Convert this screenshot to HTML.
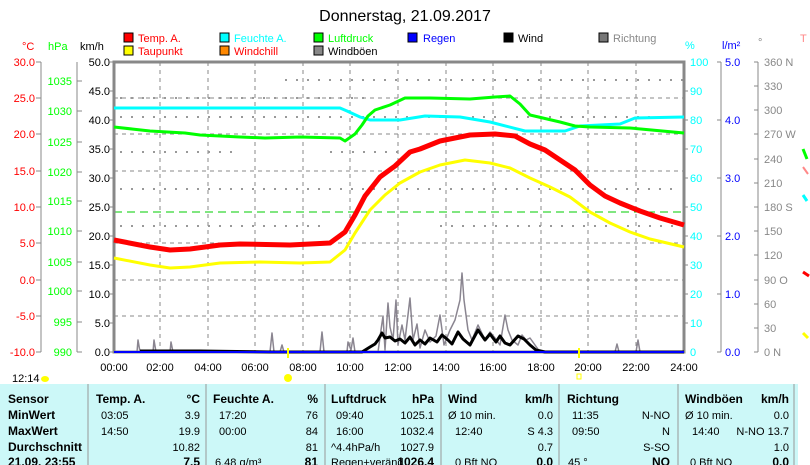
<!DOCTYPE html>
<html><head><meta charset="utf-8"><style>
body{margin:0;width:810px;height:465px;overflow:hidden;background:#fff;font-family:"Liberation Sans",sans-serif}
svg{position:absolute;left:0;top:0}
</style></head><body>
<svg width="810" height="465" xmlns="http://www.w3.org/2000/svg" font-family="Liberation Sans, sans-serif" font-size="11">
<text x="405" y="21" font-size="16" text-anchor="middle" fill="#000">Donnerstag, 21.09.2017</text>
<!-- legend -->
<g font-size="11">
<rect x="124" y="33" width="9" height="9" fill="#f00" stroke="#000"/><text x="138" y="42" fill="#f00">Temp. A.</text>
<rect x="124" y="46" width="9" height="9" fill="#ff0" stroke="#000"/><text x="138" y="55" fill="#f00">Taupunkt</text>
<rect x="220" y="33" width="9" height="9" fill="#0ff" stroke="#000"/><text x="234" y="42" fill="#0ff">Feuchte A.</text>
<rect x="220" y="46" width="9" height="9" fill="#f80" stroke="#000"/><text x="234" y="55" fill="#f00">Windchill</text>
<rect x="314" y="33" width="9" height="9" fill="#0f0" stroke="#000"/><text x="328" y="42" fill="#0f0">Luftdruck</text>
<rect x="314" y="46" width="9" height="9" fill="#888" stroke="#000"/><text x="328" y="55" fill="#000">Windböen</text>
<rect x="408" y="33" width="9" height="9" fill="#00f" stroke="#000"/><text x="423" y="42" fill="#00f">Regen</text>
<rect x="504" y="33" width="9" height="9" fill="#000" stroke="#000"/><text x="518" y="42" fill="#000">Wind</text>
<rect x="599" y="33" width="9" height="9" fill="#777" stroke="#000"/><text x="613" y="42" fill="#888">Richtung</text>
</g>
<text x="22" y="50" fill="#f00">°C</text><text x="48" y="50" fill="#0f0">hPa</text><text x="80" y="50" fill="#000">km/h</text>
<text x="685" y="49" fill="#0ff">%</text><text x="722" y="49" fill="#00f">l/m²</text><text x="758" y="46" fill="#888">°</text>
<text x="800" y="42" fill="#f88">T</text>
<!-- left axes -->
<g stroke="#888" fill="none"><line x1="41" y1="62" x2="41" y2="352"/><line x1="77" y1="62" x2="77" y2="352"/>
<path d="M36 62h5M36 98h5M36 134h5M36 171h5M36 207h5M36 243h5M36 280h5M36 316h5M36 352h5"/>
<path d="M77 81h5M77 111h5M77 142h5M77 172h5M77 201h5M77 231h5M77 262h5M77 291h5M77 322h5M77 352h5"/>
<path d="M110 62h4M110 91h4M110 120h4M110 149h4M110 178h4M110 207h4M110 236h4M110 265h4M110 294h4M110 323h4M110 352h4"/>
</g>
<g fill="#f00" text-anchor="end"><text x="35" y="66">30.0</text><text x="35" y="102">25.0</text><text x="35" y="138">20.0</text><text x="35" y="175">15.0</text><text x="35" y="211">10.0</text><text x="35" y="247">5.0</text><text x="35" y="284">0.0</text><text x="35" y="320">-5.0</text><text x="35" y="356">-10.0</text></g>
<g fill="#0f0" text-anchor="end"><text x="72" y="85">1035</text><text x="72" y="115">1030</text><text x="72" y="146">1025</text><text x="72" y="176">1020</text><text x="72" y="205">1015</text><text x="72" y="235">1010</text><text x="72" y="266">1005</text><text x="72" y="295">1000</text><text x="72" y="326">995</text><text x="72" y="356">990</text></g>
<g fill="#000" text-anchor="end"><text x="110" y="66">50.0</text><text x="110" y="95">45.0</text><text x="110" y="124">40.0</text><text x="110" y="153">35.0</text><text x="110" y="182">30.0</text><text x="110" y="211">25.0</text><text x="110" y="240">20.0</text><text x="110" y="269">15.0</text><text x="110" y="298">10.0</text><text x="110" y="327">5.0</text><text x="110" y="356">0.0</text></g>
<!-- right axes -->
<g stroke="#888" fill="none"><line x1="721" y1="62" x2="721" y2="352"/><line x1="758" y1="62" x2="758" y2="352"/>
<path d="M684 91h4M684 120h4M684 149h4M684 178h4M684 207h4M684 236h4M684 265h4M684 294h4M684 323h4"/>
<path d="M717 62h4M717 120h4M717 178h4M717 236h4M717 294h4M717 352h4"/>
<path d="M754 62h4M754 86h4M754 110h4M754 134h4M754 159h4M754 183h4M754 207h4M754 231h4M754 255h4M754 280h4M754 304h4M754 328h4M754 352h4"/>
</g>
<g fill="#0ff"><text x="690" y="66">100</text><text x="690" y="95">90</text><text x="690" y="124">80</text><text x="690" y="153">70</text><text x="690" y="182">60</text><text x="690" y="211">50</text><text x="690" y="240">40</text><text x="690" y="269">30</text><text x="690" y="298">20</text><text x="690" y="327">10</text><text x="690" y="356">0</text></g>
<g fill="#00f"><text x="725" y="66">5.0</text><text x="725" y="124">4.0</text><text x="725" y="182">3.0</text><text x="725" y="240">2.0</text><text x="725" y="298">1.0</text><text x="725" y="356">0.0</text></g>
<g fill="#888"><text x="764" y="66">360 N</text><text x="764" y="90">330</text><text x="764" y="114">300</text><text x="764" y="138">270 W</text><text x="764" y="163">240</text><text x="764" y="187">210</text><text x="764" y="211">180 S</text><text x="764" y="235">150</text><text x="764" y="259">120</text><text x="764" y="284">90  O</text><text x="764" y="308">60</text><text x="764" y="332">30</text><text x="764" y="356">0   N</text></g>
<!-- grid -->
<g stroke="#888" stroke-dasharray="4,4" fill="none">
<path d="M160 62v290M208 62v290M255 62v290M303 62v290M350 62v290M398 62v290M446 62v290M493 62v290M541 62v290M588 62v290M636 62v290"/>
<path d="M114 98h570M114 134h570M114 171h570M114 243h570M114 280h570M114 316h570"/>
</g>
<line x1="114" y1="212" x2="684" y2="212" stroke="#0c0" stroke-dasharray="8,5"/>
<!-- direction scatter -->
<g stroke="#999" stroke-width="2" stroke-dasharray="2,9" fill="none">
<path d="M285 80h400"/><path d="M120 117h560"/><path d="M120 152h120M330 152h80"/><path d="M120 189h560"/><path d="M120 226h200M440 226h240"/><path d="M120 98h250"/>
</g>
<!-- plot frame -->
<rect x="114" y="62" width="570" height="290" fill="none" stroke="#888" stroke-width="3"/>
<!-- series -->
<g fill="none" stroke-linejoin="round">
<polyline stroke="#0ff" stroke-width="3" points="114,108 340,108 347,111 360,117 370,120 400,120 425,116 460,117 490,122 525,131 565,131 580,126 620,124 635,118 684,117"/>
<polyline stroke="#0f0" stroke-width="3" points="114,127 150,131 185,133 200,135 240,137 265,138 300,137 340,138 345,141 355,134 362,125 368,116 375,110 390,105 405,98 430,98 470,99 495,97 510,96 520,104 530,115 560,122 575,126 590,127 630,128 684,133"/>
<polyline stroke="#ff0" stroke-width="3" points="114,258 150,265 170,268 190,267 220,263 260,262 300,263 330,262 345,250 355,233 370,210 385,195 400,183 420,172 440,165 465,160 490,163 510,168 530,178 550,187 570,197 590,212 610,223 630,232 650,239 684,247"/>
<polyline stroke="#f00" stroke-width="5" points="114,240 150,247 170,250 190,249 220,245 240,244 290,245 330,243 345,232 355,215 365,196 380,177 395,166 410,152 420,149 440,141 470,135 495,134 515,136 530,144 545,150 560,160 575,170 590,185 605,196 620,203 640,211 660,218 684,225"/>
<polyline stroke="#8a8590" stroke-width="1.5" points="137,352 138,340 140,352 153,352 154,340 156,352 170,352 171,342 173,352 270,352 272,333 274,352 280,352 282,345 284,352 320,352 322,332 324,352 347,352 348,342 351,350 353,338 355,352 378,352 381,330 383,316 385,350 388,303 390,327 393,340 396,300 398,345 402,325 405,340 410,298 413,340 417,324 420,348 425,330 430,342 436,336 440,315 444,345 450,330 455,320 460,300 462,273 464,300 468,330 472,340 478,325 485,340 490,332 495,338 500,345 505,315 508,330 512,340 518,345 522,335 526,340 530,338 535,345 540,352 615,352 617,344 619,352 636,352 638,340 640,352 684,352"/>
<polyline stroke="#000" stroke-width="3" points="140,351 160,351 200,351 270,352 350,352 362,352 370,347 375,344 378,340 382,333 385,338 390,337 395,341 400,339 405,343 410,337 415,345 420,340 425,344 430,338 437,342 442,335 448,340 452,344 458,332 463,339 470,345 478,330 485,340 490,334 496,342 500,336 505,343 510,345 518,336 524,339 530,345 536,350 545,352 684,352"/>
</g>
<line x1="114" y1="352" x2="684" y2="352" stroke="#00f" stroke-width="2"/>
<line x1="288" y1="348" x2="288" y2="358" stroke="#ff0" stroke-width="2"/>
<line x1="579" y1="348" x2="579" y2="358" stroke="#ff0" stroke-width="2"/>
<!-- x labels -->
<g text-anchor="middle" fill="#000"><text x="114" y="371">00:00</text><text x="160" y="371">02:00</text><text x="208" y="371">04:00</text><text x="255" y="371">06:00</text><text x="303" y="371">08:00</text><text x="350" y="371">10:00</text><text x="398" y="371">12:00</text><text x="446" y="371">14:00</text><text x="493" y="371">16:00</text><text x="541" y="371">18:00</text><text x="588" y="371">20:00</text><text x="636" y="371">22:00</text><text x="684" y="371">24:00</text></g>
<text x="12" y="382">12:14</text><ellipse cx="45" cy="379" rx="4" ry="3" fill="#ff0"/>
<circle cx="288" cy="378" r="4" fill="#ff0"/><rect x="577" y="374" width="4" height="5" fill="none" stroke="#ff0"/>
<!-- table -->
<rect x="0" y="384" width="798" height="81" fill="#ccf8f8"/>
<g stroke="#999"><path d="M88 384v81M206 384v81M325 384v81M441 384v81M559 384v81M678 384v81M794 384v81"/></g>
<g font-size="12" font-weight="bold"><text x="8" y="403">Sensor</text><text x="8" y="419">MinWert</text><text x="8" y="435">MaxWert</text><text x="8" y="451">Durchschnitt</text><text x="8" y="466">21.09. 23:55</text>
<text x="96" y="403">Temp. A.</text><text x="200" y="403" text-anchor="end">°C</text>
<text x="213" y="403">Feuchte A.</text><text x="318" y="403" text-anchor="end">%</text>
<text x="331" y="403">Luftdruck</text><text x="434" y="403" text-anchor="end">hPa</text>
<text x="448" y="403">Wind</text><text x="553" y="403" text-anchor="end">km/h</text>
<text x="567" y="403">Richtung</text>
<text x="685" y="403">Windböen</text><text x="789" y="403" text-anchor="end">km/h</text>
<text x="200" y="466" text-anchor="end">7.5</text><text x="318" y="466" text-anchor="end">81</text><text x="434" y="466" text-anchor="end">1026.4</text><text x="553" y="466" text-anchor="end">0.0</text><text x="670" y="466" text-anchor="end">NO</text><text x="789" y="466" text-anchor="end">0.0</text>
</g>
<g font-size="11">
<text x="101" y="419">03:05</text><text x="200" y="419" text-anchor="end">3.9</text>
<text x="101" y="435">14:50</text><text x="200" y="435" text-anchor="end">19.9</text>
<text x="200" y="451" text-anchor="end">10.82</text>
<text x="219" y="419">17:20</text><text x="318" y="419" text-anchor="end">76</text>
<text x="219" y="435">00:00</text><text x="318" y="435" text-anchor="end">84</text>
<text x="318" y="451" text-anchor="end">81</text><text x="215" y="466">6.48 g/m³</text>
<text x="336" y="419">09:40</text><text x="434" y="419" text-anchor="end">1025.1</text>
<text x="336" y="435">16:00</text><text x="434" y="435" text-anchor="end">1032.4</text>
<text x="331" y="451">^4.4hPa/h</text><text x="434" y="451" text-anchor="end">1027.9</text><text x="331" y="466">Regen+veränd</text>
<text x="448" y="419">Ø 10 min.</text><text x="553" y="419" text-anchor="end">0.0</text>
<text x="455" y="435">12:40</text><text x="553" y="435" text-anchor="end">S 4.3</text>
<text x="553" y="451" text-anchor="end">0.7</text><text x="455" y="466">0 Bft NO</text>
<text x="572" y="419">11:35</text><text x="670" y="419" text-anchor="end">N-NO</text>
<text x="572" y="435">09:50</text><text x="670" y="435" text-anchor="end">N</text>
<text x="670" y="451" text-anchor="end">S-SO</text><text x="568" y="466">45 °</text>
<text x="685" y="419">Ø 10 min.</text><text x="789" y="419" text-anchor="end">0.0</text>
<text x="692" y="435">14:40</text><text x="789" y="435" text-anchor="end">N-NO 13.7</text>
<text x="789" y="451" text-anchor="end">1.0</text><text x="690" y="466">0 Bft NO</text>
</g>
<!-- right edge bits -->
<g fill="none" stroke-width="3"><path d="M803 149l4 10" stroke="#0f0"/><path d="M803 167l5 7" stroke="#f88" stroke-width="2"/><path d="M803 195l4 6" stroke="#0ff"/><path d="M803 272l6 4" stroke="#f00"/><path d="M803 333l5 5" stroke="#ff0"/></g>
</svg>
</body></html>
